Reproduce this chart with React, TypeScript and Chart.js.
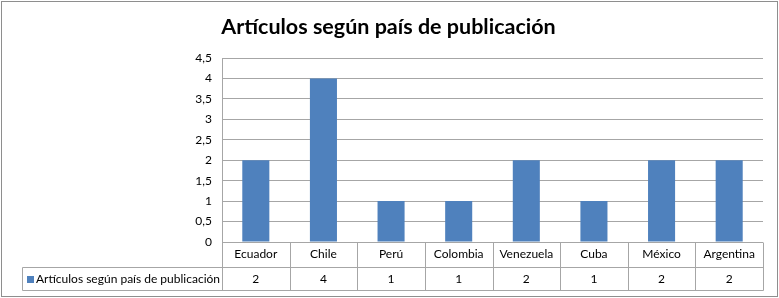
import { useEffect, useRef } from 'react';
import { Chart, registerables } from 'chart.js';

Chart.register(...registerables);

const chartTitle = 'Artículos según país de publicación';
const seriesName = 'Artículos según país de publicación';
const categories = ['Ecuador', 'Chile', 'Perú', 'Colombia', 'Venezuela', 'Cuba', 'México', 'Argentina'];
const values = [2, 4, 1, 1, 2, 1, 2, 2];
const yMax = 4.5;
const yStep = 0.5;

const FONT = 'Lato, "Liberation Sans", "DejaVu Sans", sans-serif';
const GRID = '#a6a6a6';
const BAR = '#4f81bd';
const TEXT = '#000000';

const tablePlugin = {
  id: 'dataTable',
  beforeDraw(chart: any) {
    const { ctx, width, height } = chart;
    ctx.save();
    ctx.fillStyle = '#ffffff';
    ctx.fillRect(0, 0, width, height);
    ctx.restore();
  },
  afterDraw(chart: any) {
    const { ctx, chartArea, width } = chart;
    const x = chart.scales.x;
    const top = Math.round(chartArea.bottom) + 0.5;
    const row1b = top + 25;
    const row2b = row1b + 23;
    const left = Math.round(chartArea.left) + 0.5;
    const right = Math.round(chartArea.right) + 0.5;
    const legendLeft = 22.5;
    ctx.save();
    // outer border
    ctx.strokeStyle = '#8e8e8e';
    ctx.lineWidth = 1;
    ctx.strokeRect(1.5, 1.5, width - 3, chart.height - 3);

    ctx.strokeStyle = GRID;
    ctx.beginPath();
    ctx.moveTo(legendLeft, row1b); ctx.lineTo(right, row1b);
    ctx.moveTo(legendLeft, row2b); ctx.lineTo(right, row2b);
    ctx.moveTo(legendLeft, row1b); ctx.lineTo(legendLeft, row2b);
    ctx.moveTo(left, top); ctx.lineTo(left, row2b);
    ctx.moveTo(right, top); ctx.lineTo(right, row2b);
    for (let i = 1; i < categories.length; i++) {
      const b = Math.round((x.getPixelForValue(i - 1) + x.getPixelForValue(i)) / 2) + 0.5;
      ctx.moveTo(b, top); ctx.lineTo(b, row2b);
    }
    ctx.stroke();

    // values row
    ctx.fillStyle = TEXT;
    ctx.font = `12px ${FONT}`;
    ctx.textAlign = 'center';
    ctx.textBaseline = 'middle';
    const midY = (row1b + row2b) / 2;
    values.forEach((v, i) => {
      ctx.fillText(String(v), x.getPixelForValue(i), midY);
    });

    // legend cell
    ctx.fillStyle = BAR;
    ctx.fillRect(27, Math.round(midY) - 3, 7, 7);
    ctx.fillStyle = TEXT;
    ctx.textAlign = 'left';
    ctx.fillText(seriesName, 36, midY);

    // title
    ctx.font = `bold 21.5px ${FONT}`;
    ctx.textAlign = 'center';
    ctx.textBaseline = 'alphabetic';
    ctx.fillText(chartTitle, 388.5, 34);
    ctx.restore();
  },
};

export default function App() {
  const ref = useRef<HTMLCanvasElement | null>(null);
  useEffect(() => {
    if (!ref.current) return;
    const chart = new Chart(ref.current, {
      type: 'bar',
      data: {
        labels: categories,
        datasets: [
          {
            label: seriesName,
            data: values,
            backgroundColor: BAR,
            borderWidth: 0,
            categoryPercentage: 1,
            barPercentage: 0.4,
          },
        ],
      },
      options: {
        animation: false,
        responsive: false,
        layout: { padding: { left: 22, right: 16, top: 58, bottom: 8 } },
        plugins: {
          legend: { display: false },
          title: { display: false },
          tooltip: { enabled: false },
        },
        scales: {
          x: {
            grid: { display: false, drawTicks: false },
            border: { display: false },
            ticks: { padding: 5, color: TEXT, font: { family: FONT, size: 12 }, maxRotation: 0 },
            afterFit: (s: any) => { s.height = 48; },
          },
          y: {
            min: 0,
            max: yMax,
            grid: { color: GRID, drawTicks: false },
            border: { display: true, color: GRID },
            ticks: {
              stepSize: yStep,
              padding: 10,
              color: TEXT,
              font: { family: FONT, size: 12 },
              callback: (v: any) => String(v).replace('.', ','),
            },
            afterFit: (s: any) => { s.width = 200; },
          },
        },
      },
      plugins: [tablePlugin],
    });
    return () => chart.destroy();
  }, []);
  return (
    <div style={{ position: 'absolute', left: 0, top: 0, width: 779, height: 298 }}>
      <canvas ref={ref} width={779} height={298} />
    </div>
  );
}
